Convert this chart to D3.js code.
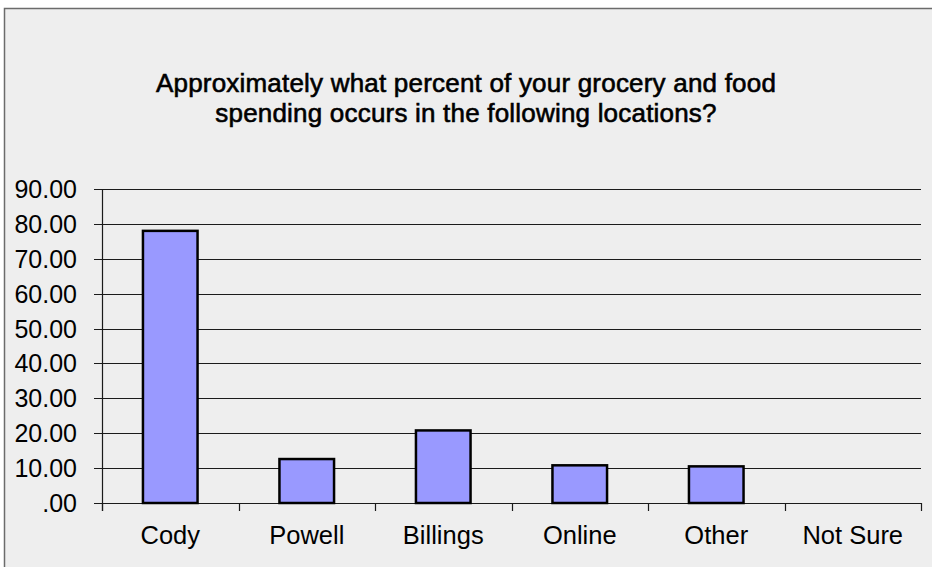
<!DOCTYPE html>
<html>
<head>
<meta charset="utf-8">
<script src="https://cdn.jsdelivr.net/npm/d3@7"></script>
<style>
  html, body { margin: 0; padding: 0; background: #ffffff; }
  svg { display: block; }
  text { font-family: "Liberation Sans", Arial, sans-serif; fill: #000; }
</style>
</head>
<body>
<svg id="chart" width="932" height="567"></svg>
<script>
// Share of grocery and food spending by location (percent)
const categories = ["Cody", "Powell", "Billings", "Online", "Other", "Not Sure"];
const values = [78.0, 12.6, 20.8, 10.8, 10.5, 0];
const yTicks = [0, 10, 20, 30, 40, 50, 60, 70, 80, 90];
const titleLines = [
  "Approximately what percent of your grocery and food",
  "spending occurs in the following locations?"
];

const svg = d3.select("#chart");
const W = 932, H = 567;

// chart frame
svg.append("rect")
  .attr("x", 4.5).attr("y", 8.5)
  .attr("width", W).attr("height", H)
  .attr("fill", "#eeeeee")
  .attr("stroke", "#6b6b6b").attr("stroke-width", 1.5);

const plot = { left: 102, right: 921, top: 189, bottom: 503 };

const x = d3.scaleBand()
  .domain(categories)
  .range([plot.left, plot.right])
  .paddingInner(0.6).paddingOuter(0.3);

const y = d3.scaleLinear()
  .domain([0, 90])
  .range([plot.bottom, plot.top]);

// horizontal gridlines
svg.append("g")
  .selectAll("line")
  .data(yTicks)
  .join("line")
  .attr("x1", plot.left - 8).attr("x2", plot.right)
  .attr("y1", d => Math.round(y(d)) + 0.5)
  .attr("y2", d => Math.round(y(d)) + 0.5)
  .attr("stroke", "#1a1a1a").attr("stroke-width", 1.2);

// y axis line
svg.append("line")
  .attr("x1", plot.left + 0.5).attr("x2", plot.left + 0.5)
  .attr("y1", plot.top).attr("y2", plot.bottom + 8)
  .attr("stroke", "#1a1a1a").attr("stroke-width", 1.2);

// y tick labels
const fmt = d => d === 0 ? ".00" : d3.format(".2f")(d);
svg.append("g")
  .selectAll("text")
  .data(yTicks)
  .join("text")
  .attr("x", 77)
  .attr("y", d => y(d))
  .attr("dy", "0.36em")
  .attr("text-anchor", "end")
  .style("font-size", "25px")
  .text(fmt);

// category boundary ticks below the baseline
const slot = (plot.right - plot.left) / categories.length;
const edges = d3.range(categories.length + 1).map(i => plot.left + i * slot);
svg.append("g")
  .selectAll("line")
  .data(edges)
  .join("line")
  .attr("x1", d => Math.round(d) + 0.5).attr("x2", d => Math.round(d) + 0.5)
  .attr("y1", plot.bottom).attr("y2", plot.bottom + 8)
  .attr("stroke", "#1a1a1a").attr("stroke-width", 1.2);

// bars
svg.append("g")
  .selectAll("rect")
  .data(categories.map((c, i) => ({ c, v: values[i] })).filter(d => d.v > 0))
  .join("rect")
  .attr("x", d => x(d.c))
  .attr("y", d => y(d.v))
  .attr("width", x.bandwidth())
  .attr("height", d => y(0) - y(d.v))
  .attr("fill", "#9999ff")
  .attr("stroke", "#000").attr("stroke-width", 2.5);

// category labels
svg.append("g")
  .selectAll("text")
  .data(categories)
  .join("text")
  .attr("x", d => x(d) + x.bandwidth() / 2)
  .attr("y", 544)
  .attr("text-anchor", "middle")
  .style("font-size", "25.5px")
  .text(d => d);

// title
svg.append("g")
  .selectAll("text")
  .data(titleLines)
  .join("text")
  .attr("x", 466)
  .attr("y", (d, i) => 92 + i * 30)
  .attr("text-anchor", "middle")
  .style("font-size", "26px")
  .style("letter-spacing", "0.2px")
  .attr("stroke", "#000").attr("stroke-width", 0.6)
  .text(d => d);
</script>
</body>
</html>
